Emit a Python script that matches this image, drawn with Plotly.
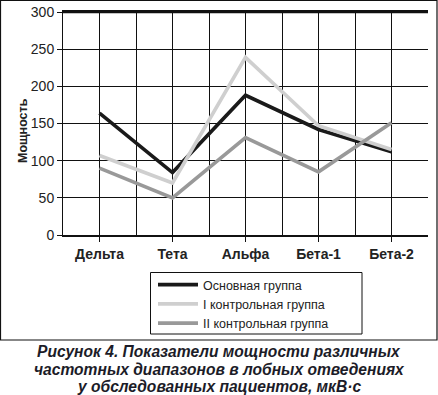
import plotly.graph_objects as go

categories = ["Дельта", "Тета", "Альфа", "Бета-1", "Бета-2"]
main_group = [164, 84, 188, 142, 112]
control_1 = [107, 70, 239, 147, 115]
control_2 = [90, 50, 131, 85, 151]
y_ticks = [0, 50, 100, 150, 200, 250, 300]

series = [
    ("Основная группа", main_group, "#1a1a1a"),
    ("I контрольная группа", control_1, "#cfcfcf"),
    ("II контрольная группа", control_2, "#999999"),
]

xs = list(range(len(categories)))
half = [i * 0.5 - 0.5 for i in range(2 * len(categories) + 1)]
xr = [-0.5, len(categories) - 0.5]

fig = go.Figure()
# invisible helper trace so the grid axis is drawn
fig.add_trace(go.Scatter(x=[xr[0]], y=[0], xaxis="x2", mode="markers",
                         marker=dict(opacity=0), showlegend=False, hoverinfo="skip"))
for name, vals, col in series:
    fig.add_trace(go.Scatter(x=xs, y=vals, name=name, mode="lines",
                             line=dict(color=col, width=3.6)))

W, H = 438, 395
L, R, T, B = 63, 10, 12, 160
pw, ph = W - L - R, H - T - B


def px(x):
    return (x - L) / pw


def py(y):
    return (H - B - y) / ph


fig.update_layout(
    width=W, height=H,
    margin=dict(l=L, r=R, t=T, b=B, autoexpand=False),
    paper_bgcolor="white", plot_bgcolor="white",
    font=dict(family="Liberation Sans, Arial, sans-serif", color="#222"),
    showlegend=True,
    legend=dict(x=px(153), y=py(270), xanchor="left", yanchor="top",
                borderwidth=0, bgcolor="rgba(0,0,0,0)",
                font=dict(size=12.5, color="#222"), tracegroupgap=1,
                itemwidth=40),
    xaxis=dict(range=xr, tickvals=xs, ticktext=[f"<b>{c}</b>" for c in categories],
               showgrid=False, zeroline=False, showline=True, linecolor="#111", linewidth=1.5,
               mirror=True, ticks="outside", ticklen=5, tickcolor="#111",
               tickfont=dict(size=14, color="#222"), fixedrange=True),
    xaxis2=dict(range=xr, overlaying="x", tickvals=half, showgrid=True, gridcolor="#111",
                gridwidth=1, showticklabels=False, ticks="", zeroline=False,
                showline=False, fixedrange=True),
    yaxis=dict(range=[0, 300], tickvals=y_ticks, showgrid=True, gridcolor="#111", gridwidth=1,
               zeroline=False, showline=True, linecolor="#111", linewidth=1,
               ticks="outside", ticklen=5, tickcolor="#111",
               tickfont=dict(size=14, color="#222"), fixedrange=True),
)

# thick top line at 300
fig.add_shape(type="line", xref="paper", yref="y", x0=0, x1=1, y0=300, y1=300,
              line=dict(color="#111", width=2.5))
# legend box
fig.add_shape(type="rect", xref="paper", yref="paper",
              x0=px(150.5), x1=px(362), y0=py(334), y1=py(272.5),
              line=dict(color="#111", width=1), fillcolor="rgba(0,0,0,0)")
# outer frame
fig.add_shape(type="rect", xref="paper", yref="paper",
              x0=px(0.5), x1=px(437), y0=py(340), y1=py(0.5),
              line=dict(color="#111", width=1.2), fillcolor="rgba(0,0,0,0)", layer="above")

fig.add_annotation(text="<b>Мощность</b>", textangle=-90, xref="paper", yref="paper",
                   x=px(14), y=py(131), showarrow=False,
                   font=dict(size=12.5, color="#222"))

caption = ["Рисунок 4. Показатели мощности различных",
           "частотных диапазонов в лобных отведениях",
           "у обследованных пациентов, мкВ·с"]
for i, line in enumerate(caption):
    fig.add_annotation(text=f"<b><i>{line}</i></b>", xref="paper", yref="paper",
                       x=px(219), y=py(351.5 + 17.6 * i), showarrow=False,
                       xanchor="center", yanchor="middle",
                       font=dict(size=15.6, color="#1c1c28"))

fig.write_html("out.html", config={"displayModeBar": False},
               post_script="document.body.style.margin='0';")
